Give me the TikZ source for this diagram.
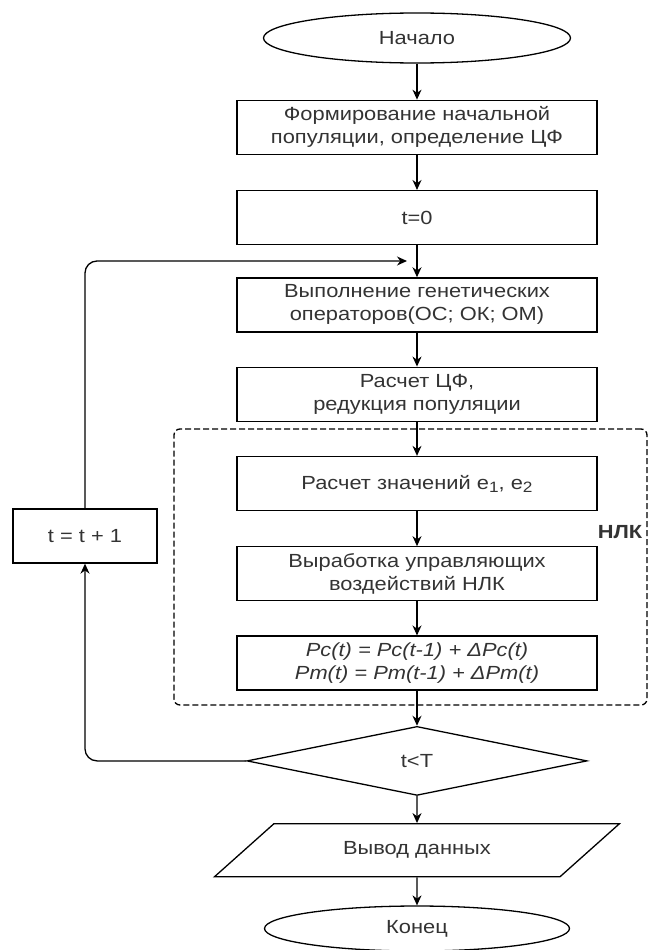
\documentclass[tikz,border=0pt]{standalone}
\usepackage{fontspec}
\setmainfont{Liberation Sans}[FakeStretch=1.15]
\usetikzlibrary{shapes.geometric, arrows.meta, positioning}
\tikzset{
  flowbox/.style={
    draw, line width=1.3pt, align=center, inner sep=2pt,
    minimum width=360pt, minimum height=54pt,
    font=\fontsize{19}{23}\selectfont, text=black!80
  },
  flowterm/.style={
    draw, ellipse, line width=1.3pt, align=center, inner sep=0pt,
    font=\fontsize{19}{23}\selectfont, text=black!80
  },
  flowcond/.style={
    draw, diamond, line width=1.3pt, align=center, inner sep=0pt,
    minimum width=340pt, minimum height=69pt,
    font=\fontsize{19}{23}\selectfont, text=black!80
  },
  flowio/.style={
    draw, trapezium, trapezium left angle=33.5, trapezium right angle=146.5,
    trapezium stretches=true, line width=1.3pt, align=center, inner sep=2pt,
    minimum width=405pt, minimum height=53pt,
    font=\fontsize{19}{23}\selectfont, text=black!80
  },
  flowarrow/.style={
    -{Stealth[length=10pt,width=9pt]}, line width=1.3pt
  },
  groupbox/.style={
    draw, dash pattern=on 6pt off 3pt, rounded corners=6pt, line width=1.3pt
  },
}

\begin{document}
\begin{tikzpicture}[x=1pt, y=-1pt]
  \useasboundingbox (0,0) rectangle (649,950);

  % Main column
  \node[flowterm, minimum width=307pt, minimum height=50pt] (start) at (417,38) {Начало};
  \node[flowbox, below=36pt of start] (init) {Формирование начальной\\популяции, определение ЦФ};
  \node[flowbox, below=35pt of init] (tzero) {t=0};
  \node[flowbox, below=32pt of tzero] (genops) {Выполнение генетических\\операторов(ОС; ОК; ОМ)};
  \node[flowbox, below=34pt of genops] (fitness) {Расчет ЦФ,\\редукция популяции};

  % NLK block
  \node[groupbox, minimum width=473pt, minimum height=276pt] (nlkframe) at (410.5,567) {};
  \node[font=\fontsize{19}{23}\selectfont\bfseries, text=black!80] (nlklabel) at (620,532) {НЛК};
  \node[flowbox, below=34pt of fitness] (errors)
    {Расчет значений e{\fontsize{15}{15}\selectfont\raisebox{-3pt}{1}}, e{\fontsize{15}{15}\selectfont\raisebox{-3pt}{2}}};
  \node[flowbox, below=35pt of errors] (control) {Выработка управляющих\\воздействий НЛК};
  \node[flowbox, below=34pt of control, font=\fontsize{19}{23}\selectfont\itshape] (probs)
    {Pc(t) = Pc(t-1) + ΔPc(t)\\Pm(t) = Pm(t-1) + ΔPm(t)};

  % Condition and exit
  \node[flowcond, below=35pt of probs] (cond) {t<T};
  \node[flowio, below=27pt of cond] (output) {Вывод данных};
  \node[flowterm, minimum width=305pt, minimum height=45pt, below=28pt of output] (stop) {Конец};

  % Loop counter
  \node[flowbox, minimum width=144pt] (incr) at (85,536) {t = t + 1};
  \coordinate (loopin) at (407,261);

  % Connectors
  \draw[flowarrow] (start) -- (init);
  \draw[flowarrow] (init) -- (tzero);
  \draw[flowarrow] (tzero) -- (genops);
  \draw[flowarrow] (genops) -- (fitness);
  \draw[flowarrow] (fitness) -- (errors);
  \draw[flowarrow] (errors) -- (control);
  \draw[flowarrow] (control) -- (probs);
  \draw[flowarrow] (probs) -- (cond);
  \draw[flowarrow] (cond) -- (output);
  \draw[flowarrow] (output) -- (stop);
  \draw[flowarrow, rounded corners=12pt] (cond.west) -| (incr.south);
  \draw[flowarrow, rounded corners=12pt] (incr.north) |- (loopin);
\end{tikzpicture}
\end{document}
